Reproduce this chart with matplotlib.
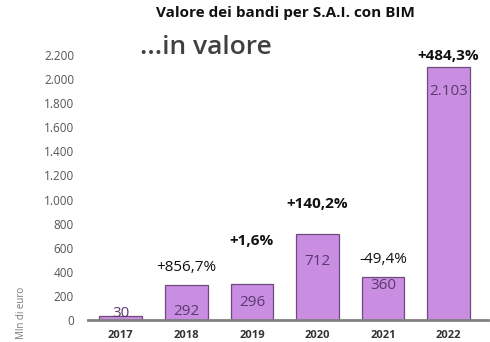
import matplotlib.pyplot as plt
import numpy as np

years = ['2017', '2018', '2019', '2020', '2021', '2022']
values = [30, 292, 296, 712, 360, 2103]
value_labels = ['30', '292', '296', '712', '360', '2.103']
pct_labels = ['', '+856,7%', '+1,6%', '+140,2%', '-49,4%', '+484,3%']
pct_bold = [False, False, True, True, False, True]
y_ticks = list(range(0, 2201, 200))

# label offsets (pixels) relative to bar top
pct_offset = [0, 17, 43, 30, 17, 11]
val_offset = [3, -27, -18, -27, -9, -25]

plt.rcParams['font.family'] = ['Open Sans', 'DejaVu Sans']

fig = plt.figure(figsize=(4.9, 3.42), dpi=100)
ax = fig.add_axes([88 / 490, 22 / 342, 400 / 490, 265 / 342])

x = np.arange(len(years))
ax.bar(x, values, width=0.65, color='#c98de2', edgecolor='#6e4a7e', linewidth=0.9, zorder=2)

for i, v in enumerate(values):
    ax.annotate(value_labels[i], (x[i], v), xytext=(0, val_offset[i] * 0.72),
                textcoords='offset points', ha='center', va='center',
                fontsize=11, color='#5a3a6e', zorder=3, annotation_clip=False)
    if pct_labels[i]:
        ax.annotate(pct_labels[i], (x[i], v), xytext=(0, pct_offset[i] * 0.72),
                    textcoords='offset points', ha='center', va='center',
                    fontsize=11, fontweight='bold' if pct_bold[i] else 'normal',
                    color='#111111', annotation_clip=False)

ax.set_xlim(-0.5, 5.6)
ax.set_ylim(0, 2200)
ax.set_yticks(y_ticks)
ax.set_yticklabels([f'{t:,}'.replace(',', '.') for t in y_ticks], fontsize=8.5, color='#555555')
ax.set_xticks(x)
ax.set_xticklabels(years, fontsize=8, fontweight='bold', color='#333333')
ax.tick_params(axis='both', length=0)
ax.tick_params(axis='y', pad=10)
ax.tick_params(axis='x', pad=7)
for s in ['top', 'right', 'left']:
    ax.spines[s].set_visible(False)
ax.spines['bottom'].set_color('#808080')
ax.spines['bottom'].set_linewidth(2)

fig.text(21 / 490, 1 - 313 / 342, 'Mln di euro', rotation=90, fontsize=7,
         color='#777777', ha='center', va='center')
fig.text(285 / 490, 1 - 13 / 342, 'Valore dei bandi per S.A.I. con BIM',
         fontsize=11, fontweight='bold', ha='center', va='center', color='#111111')
fig.text(140 / 490, 1 - 47 / 342, '...in valore', fontsize=19, fontweight='semibold',
         ha='left', va='center', color='#404040')

fig.savefig('out.png', dpi=100)
